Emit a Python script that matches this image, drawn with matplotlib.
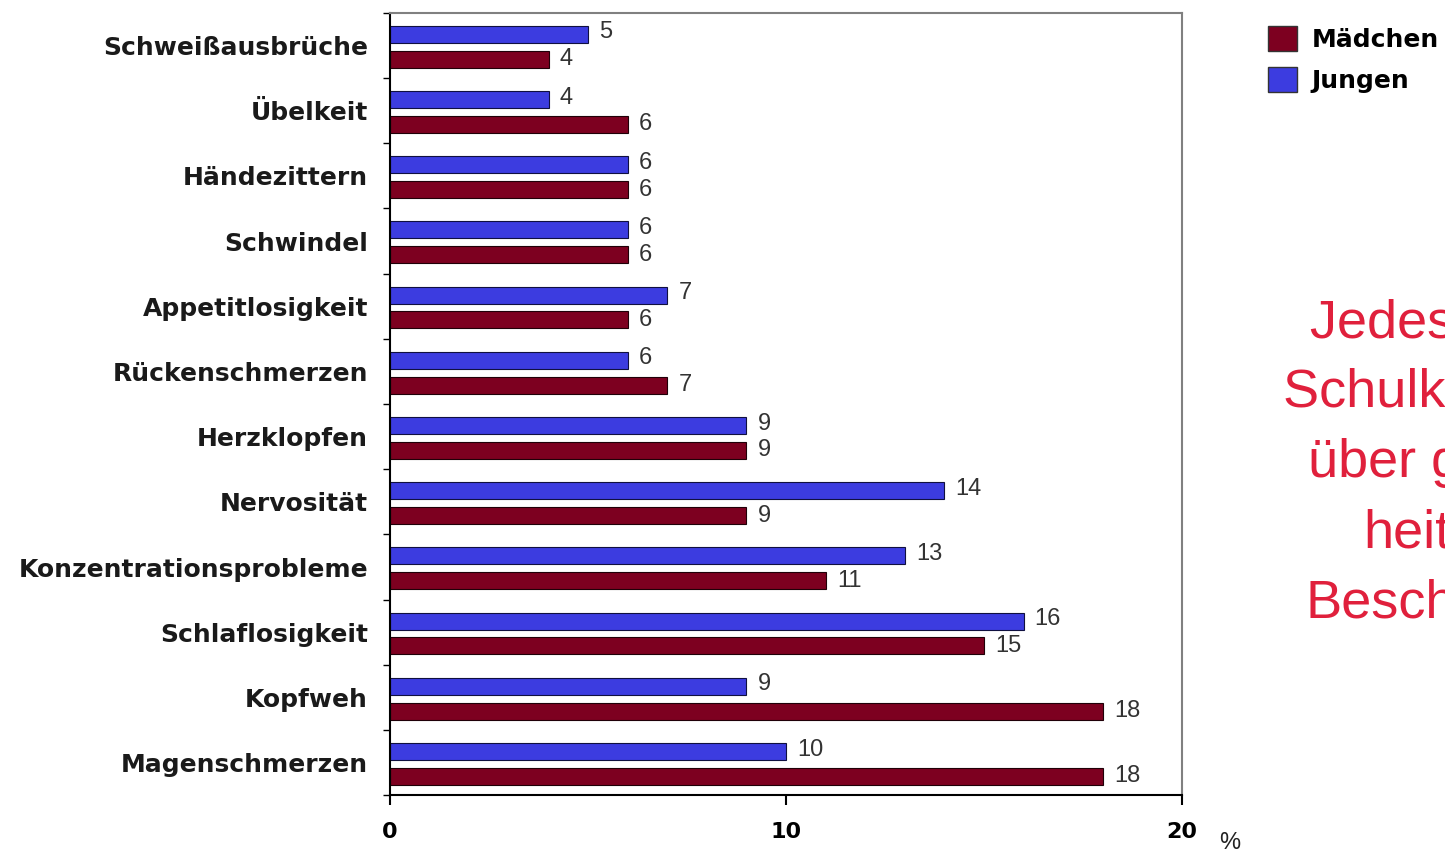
import numpy as np
import matplotlib.pyplot as plt
from matplotlib.patches import Patch

plt.rcParams['font.family'] = ['Liberation Sans', 'DejaVu Sans']

# data (top to bottom)
symptoms = ["Schweißausbrüche", "Übelkeit", "Händezittern", "Schwindel",
            "Appetitlosigkeit", "Rückenschmerzen", "Herzklopfen", "Nervosität",
            "Konzentrationsprobleme", "Schlaflosigkeit", "Kopfweh", "Magenschmerzen"]
jungen = [5, 4, 6, 6, 7, 6, 9, 14, 13, 16, 9, 10]
maedchen = [4, 6, 6, 6, 6, 7, 9, 9, 11, 15, 18, 18]

col_j = "#3c3ce0"
col_m = "#7d0020"
wide = "DejaVu Sans"   # wider bold face, closer to the spaced-out labels

fig = plt.figure(figsize=(14.45, 8.56), dpi=100)
ax = fig.add_axes([0.27, 0.071, 0.548, 0.914])

y = np.arange(len(symptoms))
h = 0.26
ax.barh(y - 0.17, jungen, height=h, color=col_j, edgecolor="#101040", linewidth=0.8)
ax.barh(y + 0.21, maedchen, height=h, color=col_m, edgecolor="#200008", linewidth=0.8)

for yy, v in zip(y, jungen):
    ax.text(v + 0.28, yy - 0.2, str(v), va="center", ha="left", fontsize=17, color="#333333")
for yy, v in zip(y, maedchen):
    ax.text(v + 0.28, yy + 0.21, str(v), va="center", ha="left", fontsize=17, color="#333333")

ax.set_ylim(len(symptoms) - 0.5, -0.5)
ax.set_xlim(0, 20)
ax.set_yticks(y)
ax.set_yticklabels(symptoms, fontsize=18, fontweight="bold", family=wide, color="#1a1a1a")
ax.set_yticks(np.arange(len(symptoms) + 1) - 0.5, minor=True)
ax.tick_params(axis="y", which="major", length=0, pad=16)
ax.tick_params(axis="y", which="minor", length=5, width=1, direction="out")
ax.set_xticks([0, 10, 20])
ax.set_xticklabels(["0", "10", "20"], fontsize=16, fontweight="bold", family=wide)
ax.tick_params(axis="x", length=7, width=1.5, pad=12)

for s in ["top", "right"]:
    ax.spines[s].set_color("#808080")
    ax.spines[s].set_linewidth(1.5)
for s in ["left", "bottom"]:
    ax.spines[s].set_color("black")
    ax.spines[s].set_linewidth(1.5)

fig.text(1230 / 1445, 1 - 843 / 856, "%", fontsize=17, ha="center", va="center", color="#222222")

handles = [Patch(facecolor=col_m, edgecolor="#333333"), Patch(facecolor=col_j, edgecolor="#333333")]
fig.legend(handles, ["Mädchen", "Jungen"], loc="upper left", bbox_to_anchor=(1268 / 1445, 1 - 26 / 856),
           frameon=False, prop={"weight": "bold", "size": 18, "family": wide}, handlelength=1.15,
           handleheight=1.15, handletextpad=0.6, labelspacing=0.6, borderpad=0, borderaxespad=0)

red_lines = ["Jedes dritte", "Schulkind klagt", "über gesund-", "heitliche", "Beschwerden"]
xs = [1310, 1283, 1308, 1363, 1305]
ys = [337, 407, 477, 547, 617]
for line, xp, yp in zip(red_lines, xs, ys):
    fig.text(xp / 1445, 1 - yp / 856, line, fontsize=39, color="#e0203c",
             ha="left", va="baseline")

fig.savefig("out.png", dpi=100)
